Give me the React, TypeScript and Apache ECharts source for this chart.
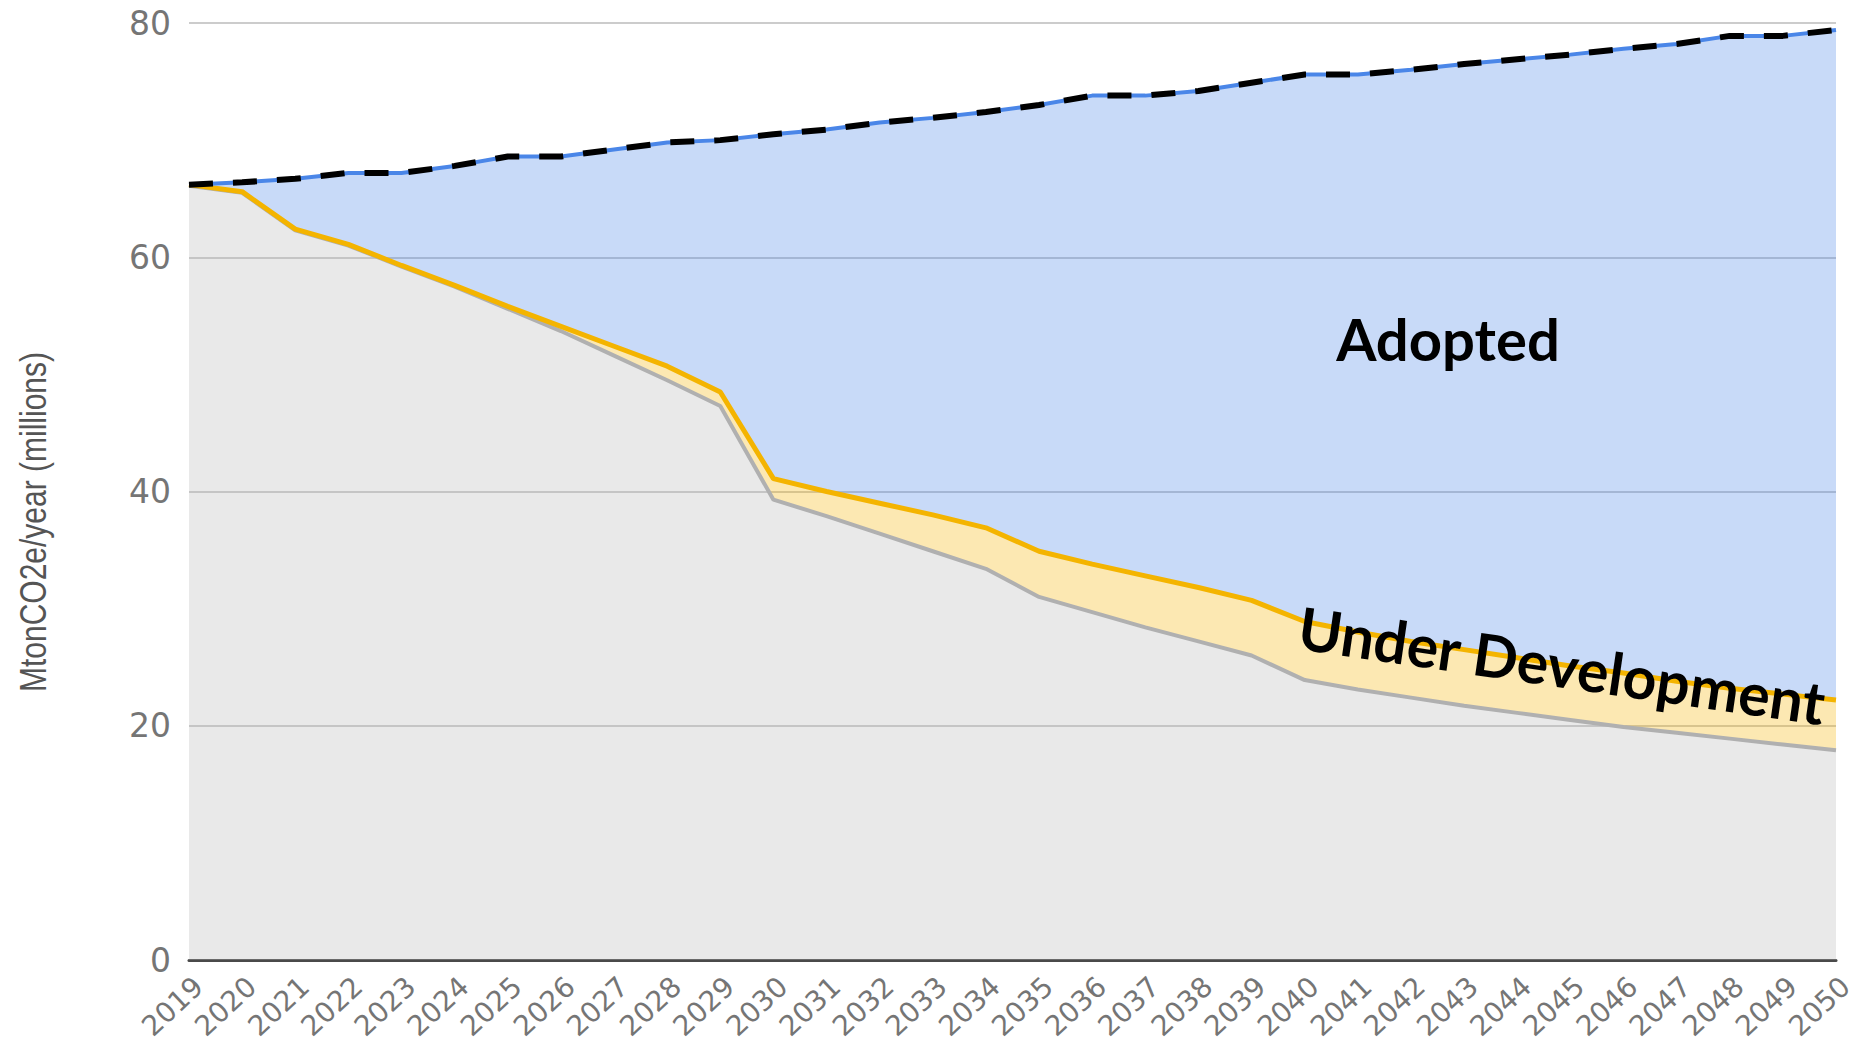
import React, { useEffect, useRef } from 'react';
import * as echarts from 'echarts';

const years = [
  '2019', '2020', '2021', '2022', '2023', '2024', '2025', '2026', '2027', '2028', '2029',
  '2030', '2031', '2032', '2033', '2034', '2035', '2036', '2037', '2038', '2039', '2040',
  '2041', '2042', '2043', '2044', '2045', '2046', '2047', '2048', '2049', '2050',
];

// Gray (baseline) line
const baseline = [
  66.1, 65.5, 62.3, 61.0, 59.2, 57.5, 55.6, 53.7, 51.6, 49.5, 47.3,
  39.3, 37.9, 36.4, 34.9, 33.4, 31.0, 29.7, 28.4, 27.2, 26.0, 23.9,
  23.1, 22.4, 21.7, 21.1, 20.5, 19.9, 19.4, 18.9, 18.4, 17.9,
];

// Yellow line (baseline + under development)
const underDevTop = [
  66.2, 65.6, 62.4, 61.1, 59.3, 57.6, 55.8, 54.1, 52.4, 50.7, 48.5,
  41.1, 40.0, 39.0, 38.0, 36.9, 34.9, 33.8, 32.8, 31.8, 30.7, 28.9,
  28.0, 27.2, 26.5, 25.8, 25.1, 24.5, 23.8, 23.2, 22.7, 22.2,
];

// Top line (total incl. adopted)
const total = [
  66.2, 66.4, 66.7, 67.2, 67.2, 67.8, 68.6, 68.6, 69.2, 69.8, 70.0,
  70.5, 70.9, 71.5, 71.9, 72.4, 73.0, 73.8, 73.8, 74.2, 74.9, 75.6,
  75.6, 76.0, 76.5, 76.9, 77.3, 77.8, 78.2, 78.9, 78.9, 79.4,
];

const yTicks = { min: 0, max: 80, interval: 20 };
const yAxisTitle = 'MtonCO2e/year (millions)';
const labelAdopted = 'Adopted';
const labelUnderDev = 'Under Development';

const labelFont = '"DejaVu Sans", Arial, sans-serif';
const titleFont = 'Arial, "Liberation Sans", sans-serif';
const annoFont = 'Lato, "Open Sans", sans-serif';

export default function App() {
  const ref = useRef<HTMLDivElement>(null);

  useEffect(() => {
    if (!ref.current) return;
    const chart = echarts.init(ref.current, null, { renderer: 'svg' });

    const underDevDiff = underDevTop.map((v, i) => +(v - baseline[i]).toFixed(2));
    const adoptedDiff = total.map((v, i) => +(v - underDevTop[i]).toFixed(2));

    chart.setOption({
      animation: false,
      backgroundColor: '#ffffff',
      grid: {
        left: 189,
        right: 37,
        top: 23,
        bottom: 88,
        containLabel: false,
        outerBoundsMode: 'none',
      },
      xAxis: {
        type: 'category',
        data: years,
        boundaryGap: false,
        axisLine: { show: true, lineStyle: { color: '#4a4a4a', width: 3 } },
        axisTick: { show: false },
        splitLine: { show: false },
        axisLabel: {
          interval: 0,
          rotate: 43,
          fontSize: 28,
          color: '#757575',
          margin: 12,
          verticalAlign: 'top',
          fontFamily: labelFont,
        },
      },
      yAxis: {
        type: 'value',
        min: yTicks.min,
        max: yTicks.max,
        interval: yTicks.interval,
        axisLine: { show: false },
        axisTick: { show: false },
        axisLabel: { fontSize: 33, color: '#757575', margin: 18, fontFamily: labelFont },
        splitLine: { show: true, lineStyle: { color: '#cccccc', width: 2 } },
      },
      series: [
        {
          name: 'Baseline',
          type: 'line',
          stack: 'emissions',
          data: baseline,
          symbol: 'none',
          lineStyle: { color: '#b0b0b0', width: 4 },
          areaStyle: { color: '#b7b7b7', opacity: 0.3 },
        },
        {
          name: 'Under Development',
          type: 'line',
          stack: 'emissions',
          data: underDevDiff,
          symbol: 'none',
          lineStyle: { color: '#f4b400', width: 5 },
          areaStyle: { color: '#f4b400', opacity: 0.3 },
        },
        {
          name: 'Adopted',
          type: 'line',
          stack: 'emissions',
          data: adoptedDiff,
          symbol: 'none',
          lineStyle: { color: '#4a86e8', width: 4 },
          areaStyle: { color: '#4a86e8', opacity: 0.3 },
        },
        {
          name: 'Total',
          type: 'line',
          data: total,
          symbol: 'none',
          lineStyle: { color: '#000000', width: 6, type: [24, 20] },
        },
      ],
      graphic: [
        {
          type: 'text',
          x: 33,
          y: 522,
          z: 100,
          rotation: Math.PI / 2,
          scaleY: 1.25,
          style: {
            text: yAxisTitle,
            font: `30px ${titleFont}`,
            fill: '#555555',
            align: 'center',
            verticalAlign: 'middle',
            textAlign: 'center',
            textVerticalAlign: 'middle',
          },
        },
        {
          type: 'text',
          x: 1448,
          y: 338,
          z: 100,
          style: {
            text: labelAdopted,
            font: `bold 58px ${annoFont}`,
            fill: '#000000',
            align: 'center',
            verticalAlign: 'middle',
            textAlign: 'center',
            textVerticalAlign: 'middle',
          },
        },
        {
          type: 'text',
          x: 1562,
          y: 665,
          z: 100,
          rotation: -0.145,
          style: {
            text: labelUnderDev,
            font: `bold 59px ${annoFont}`,
            fill: '#000000',
            align: 'center',
            verticalAlign: 'middle',
            textAlign: 'center',
            textVerticalAlign: 'middle',
          },
        },
      ],
    });

    return () => chart.dispose();
  }, []);

  return (
    <div
      ref={ref}
      style={{ position: 'fixed', left: 0, top: 0, width: 1873, height: 1048, background: '#ffffff' }}
    />
  );
}
